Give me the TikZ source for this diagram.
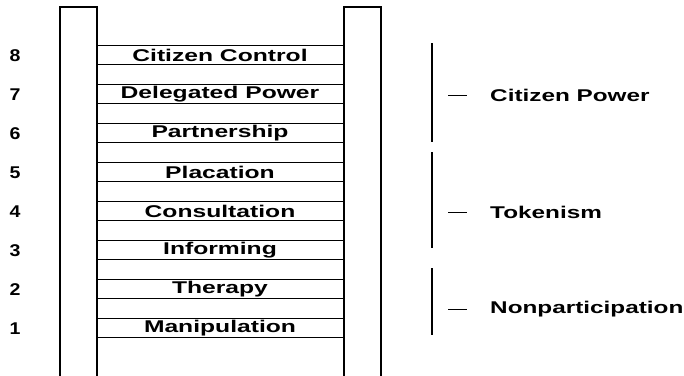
\documentclass[tikz,border=0pt]{standalone}
\usepackage{fontspec}
\usepackage{graphicx}
\setmainfont{Liberation Sans}
\begin{document}
\begin{tikzpicture}[x=1pt,y=-1pt,
  rail/.style={line width=2pt},
  rung/.style={line width=1pt},
  bracket/.style={line width=2.4pt},
  tick/.style={line width=1pt},
  rungtext/.style={inner sep=0pt, font=\fontsize{17}{20}\selectfont\bfseries},
  grouptext/.style={inner sep=0pt, anchor=west, font=\fontsize{17}{20}\selectfont\bfseries},
]
\useasboundingbox (0,0) rectangle (684,375);

% the two rails of the ladder, open at the bottom
\draw[rail] (60,380) -- (60,7) -- (97,7) -- (97,380);
\draw[rail] (344,380) -- (344,7) -- (381,7) -- (381,380);

% rungs: each step is a band between two thin lines
\foreach \n/\txt in {8/Citizen Control,7/Delegated Power,6/Partnership,5/Placation,
                     4/Consultation,3/Informing,2/Therapy,1/Manipulation}{
  \pgfmathsetmacro{\top}{45+(8-\n)*39}
  \draw[rung] (97,\top) -- (344,\top);
  \draw[rung] (97,\top+19.5) -- (344,\top+19.5);
  \node[rungtext] (step\n) at (220,\top+10.5) {\scalebox{1.45}[1]{\txt}};
  \node[rungtext] (num\n) at (15,\top+10.5) {\scalebox{1.15}[1]{\n}};
}

% groupings on the right
\draw[bracket] (432,43) -- (432,142);
\draw[bracket] (432,152) -- (432,248);
\draw[bracket] (432,268) -- (432,335);

\node[grouptext] (power) at (490,95) {\scalebox{1.43}[1]{Citizen Power}};
\node[grouptext] (token) at (490,212) {\scalebox{1.43}[1]{Tokenism}};
\node[grouptext] (nonpart) at (490,309) {\scalebox{1.43}[1]{Nonparticipation}};

\draw[tick] ([xshift=-42pt]power.west) -- ([xshift=-23pt]power.west);
\draw[tick] ([xshift=-42pt]token.west) -- ([xshift=-23pt]token.west);
\draw[tick] ([xshift=-42pt]nonpart.west) -- ([xshift=-23pt]nonpart.west);
\end{tikzpicture}
\end{document}
